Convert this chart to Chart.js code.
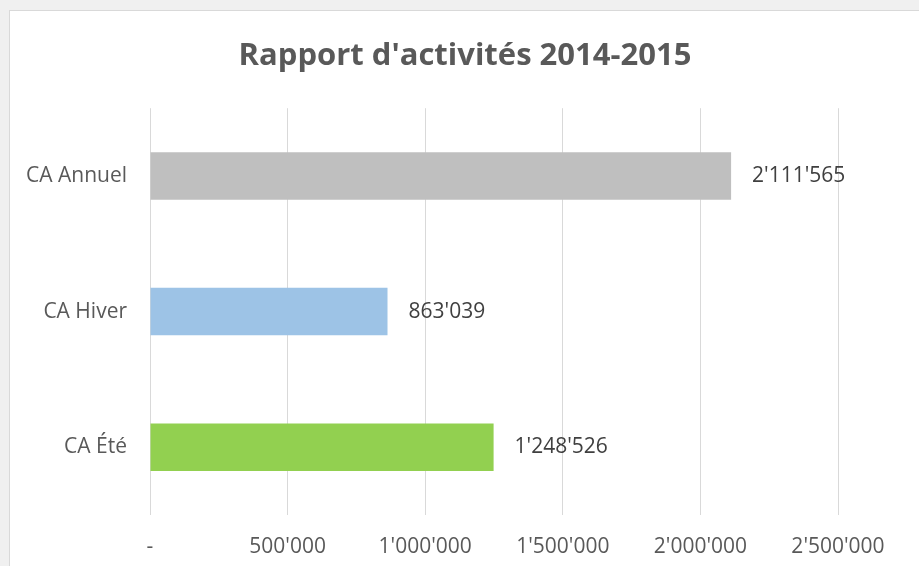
<!DOCTYPE html>
<html>
<head>
<meta charset="utf-8">
<title>Rapport d'activités 2014-2015</title>
<script src="https://cdn.jsdelivr.net/npm/chart.js@4"></script>
<style>
  html, body { margin: 0; padding: 0; background: #f0f0f0; }
  #chart { display: block; }
</style>
</head>
<body>
<canvas id="chart" width="919" height="566"></canvas>
<script>
// données du graphique
const categories = ['CA Annuel', 'CA Hiver', 'CA Été'];
const values = [2111565, 863039, 1248526];
const barColors = ['#bfbfbf', '#9dc3e6', '#92d050'];
const xTicks = [0, 500000, 1000000, 1500000, 2000000, 2500000];

const textColor = '#595959';
const fontFamily = '"Open Sans", sans-serif';

// format suisse : 1'248'526, zéro affiché comme "-"
function formatCHF(v) {
  if (v === 0) return '-';
  return Math.round(v).toString().replace(/\B(?=(\d{3})+(?!\d))/g, "'");
}

// fond gris + cadre blanc du graphique
const backgroundPlugin = {
  id: 'cadre',
  beforeDraw(chart) {
    const ctx = chart.ctx;
    ctx.save();
    ctx.fillStyle = '#f0f0f0';
    ctx.fillRect(0, 0, chart.width, chart.height);
    ctx.fillStyle = '#ffffff';
    ctx.fillRect(9, 10, chart.width, chart.height);
    ctx.strokeStyle = '#d9d9d9';
    ctx.lineWidth = 1;
    ctx.strokeRect(9.5, 10.5, chart.width + 10, chart.height + 10);
    ctx.restore();
  }
};

// centrer le titre sur tout le cadre (pas seulement sur la zone moins la marge droite)
const titleCenterPlugin = {
  id: 'centreTitre',
  afterLayout(chart) {
    if (chart.titleBlock) {
      chart.titleBlock.left = 11;
      chart.titleBlock.right = chart.width;
    }
  }
};

// étiquettes de valeurs à droite des barres
const valueLabelsPlugin = {
  id: 'valeurs',
  afterDatasetsDraw(chart) {
    const ctx = chart.ctx;
    const meta = chart.getDatasetMeta(0);
    ctx.save();
    ctx.font = '21px ' + fontFamily;
    ctx.fillStyle = '#404040';
    ctx.textAlign = 'left';
    ctx.textBaseline = 'middle';
    meta.data.forEach((bar, i) => {
      ctx.fillText(formatCHF(values[i]), bar.x + 21, bar.y);
    });
    ctx.restore();
  }
};

new Chart(document.getElementById('chart'), {
  type: 'bar',
  data: {
    labels: categories,
    datasets: [{
      data: values,
      backgroundColor: barColors,
      borderWidth: 0,
      categoryPercentage: 1,
      barPercentage: 0.35
    }]
  },
  options: {
    indexAxis: 'y',
    responsive: false,
    animation: false,
    devicePixelRatio: 1,
    layout: {
      padding: { left: 0, right: 81, top: 0, bottom: 0 }
    },
    scales: {
      x: {
        min: 0,
        max: 2500000,
        afterBuildTicks(scale) {
          scale.ticks = xTicks.map(v => ({ value: v }));
        },
        afterFit(scale) { scale.height = 51; },
        grid: { color: '#d9d9d9', lineWidth: 1, drawTicks: false },
        border: { display: false },
        ticks: {
          padding: 19,
          color: textColor,
          font: { family: fontFamily, size: 21 },
          maxRotation: 0,
          callback: v => formatCHF(v)
        }
      },
      y: {
        afterFit(scale) { scale.width = 150; },
        grid: { display: false, drawTicks: false },
        border: { display: false },
        ticks: {
          padding: 23,
          color: textColor,
          font: { family: fontFamily, size: 21 }
        }
      }
    },
    plugins: {
      legend: { display: false },
      tooltip: { enabled: false },
      title: {
        display: true,
        text: "Rapport d'activités 2014-2015",
        color: textColor,
        font: { family: fontFamily, size: 31, weight: 'bold' },
        padding: { top: 38, bottom: 33 }
      }
    }
  },
  plugins: [backgroundPlugin, titleCenterPlugin, valueLabelsPlugin]
});
</script>
</body>
</html>
